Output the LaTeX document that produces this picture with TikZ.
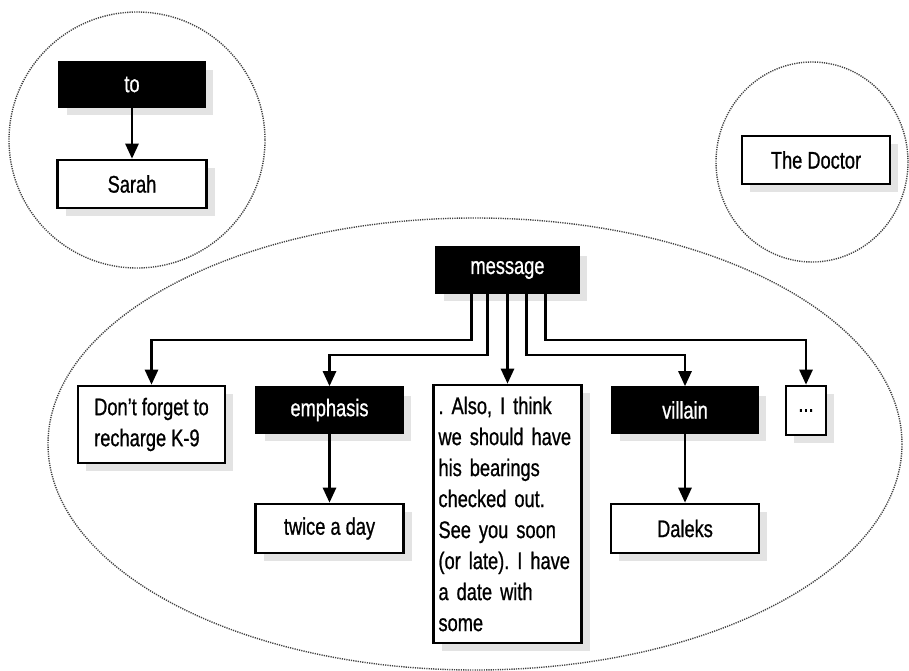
\documentclass[tikz,border=0pt]{standalone}
\usepackage{fontspec}
\setmainfont{Liberation Sans}[FakeStretch=0.76,FakeBold=0.8]
\usetikzlibrary{arrows.meta,shadows}

\tikzset{
  box/.style={draw=black,line width=2.6pt,fill=white,minimum width=146pt,minimum height=45pt,
    inner sep=5pt,font={\fontsize{24}{31}\selectfont\frenchspacing},
    drop shadow={shadow xshift=8pt,shadow yshift=-8pt,fill=black!22}},
  tagbox/.style={box,fill=black,text=white},
  link/.style={line width=2.6pt,-{Triangle[width=13pt,length=15pt]}},
  ring/.style={draw=black!75,line width=1.4pt,dash pattern=on 1.2pt off 1.1pt}
}

\begin{document}
\begin{tikzpicture}[x=1pt,y=-1pt]
    \useasboundingbox (0,0) rectangle (909,671);
    % Scopes
    \draw[ring] (137,140) circle[radius=128];
    \draw[ring] (812,162) ellipse[x radius=96,y radius=100];
    \draw[ring] (475,444) ellipse[x radius=427,y radius=226];
    % Nodes
    \node[tagbox] (to) at (132,84.5) {to};
    \node[box,minimum width=149pt,minimum height=48pt] (sarah) at (132,184) {Sarah};
    \node[box,minimum width=148pt,minimum height=48pt] (doctor) at (816,160) {The Doctor};
    \node[tagbox,minimum width=143pt] (message) at (507.5,270) {message};
    \node[box,align=left,minimum width=147pt,minimum height=77pt] (reminder) at (151.5,424.5)
      {Don't forget to\\recharge K-9};
    \node[tagbox] (emphasis) at (329.5,410) {emphasis};
    \node[box,align=left,text width=138pt,minimum height=258pt] (body) at (507.5,514)
      {. Also, I think\\we should have\\his bearings\\checked out.\\See you soon\\(or late). I have\\a date with\\some};
    \node[tagbox] (villain) at (685,410) {villain};
    \node[box,minimum width=40pt,minimum height=49pt] (more) at (806,410.5) {...};
    \node[box,minimum width=148pt,minimum height=49pt] (twice) at (329.5,528.5) {twice a day};
    \node[box,minimum width=148pt,minimum height=49pt] (daleks) at (685,528.5) {Daleks};
    % Links
    \draw[link] (to.south) -- (sarah.north);
    \draw[link] ([xshift=-36pt]message.south) -- ++(0,46) -| (reminder.north);
    \draw[link] ([xshift=-20pt]message.south) -- ++(0,61) -| (emphasis.north);
    \draw[link] (message.south) -- (body.north);
    \draw[link] ([xshift=19pt]message.south) -- ++(0,61) -| (villain.north);
    \draw[link] ([xshift=38pt]message.south) -- ++(0,46) -| (more.north);
    \draw[link] (emphasis.south) -- (twice.north);
    \draw[link] (villain.south) -- (daleks.north);
  \end{tikzpicture}
\end{document}
